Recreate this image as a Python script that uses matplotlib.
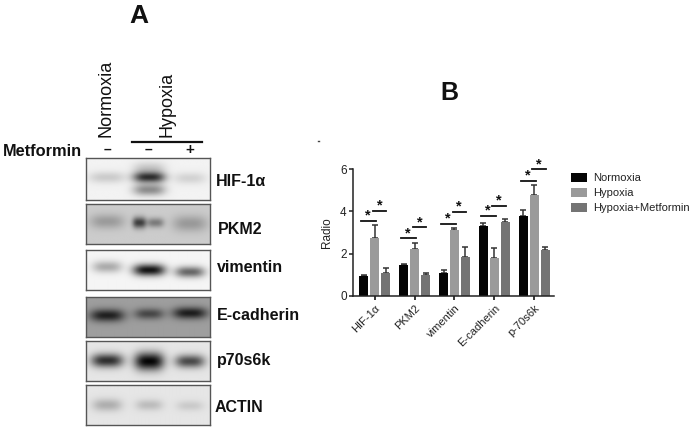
import numpy as np
import matplotlib
matplotlib.use("Agg")
import matplotlib.pyplot as plt

plt.rcParams['font.family'] = ['Liberation Sans', 'DejaVu Sans']

W, H = 691, 429
categories = ["HIF-1α", "PKM2", "vimentin", "E-cadherin", "p-70s6k"]
series_names = ["Normoxia", "Hypoxia", "Hypoxia+Metformin"]
normoxia = [0.95, 1.47, 1.08, 3.32, 3.78]
hypoxia = [2.75, 2.20, 3.12, 1.80, 4.77]
metformin = [1.07, 1.00, 1.83, 3.52, 2.15]
normoxia_err = [0.03, 0.05, 0.15, 0.15, 0.30]
hypoxia_err = [0.62, 0.32, 0.10, 0.45, 0.50]
metformin_err = [0.23, 0.10, 0.50, 0.10, 0.15]
sig_low = [3.56, 2.72, 3.42, 3.78, 5.46]
sig_high = [4.02, 3.24, 3.97, 4.27, 6.00]
colors = ["#050505", "#9a9a9a", "#747474"]

blot_names = ["HIF-1α", "PKM2", "vimentin", "E-cadherin", "p70s6k", "ACTIN"]
blot_boxes = [(158, 200), (204, 244), (250, 290), (297, 337), (341, 381), (385, 425)]
blot_label_pos = [(216, 181), (218, 229), (217, 268), (217, 316), (217, 361), (215, 408)]
blot_bg = [0.95, 0.80, 0.96, 0.62, 0.90, 0.90]
# band: lane centre (fraction), row (fraction), darkness, half width, half height (fractions)
blot_bands = [
    [(0.17, 0.46, 0.16, 0.15, 0.14), (0.51, 0.46, 0.78, 0.13, 0.13), (0.51, 0.76, 0.42, 0.13, 0.14),
     (0.51, 0.25, 0.18, 0.13, 0.16), (0.84, 0.48, 0.13, 0.13, 0.14)],
    [(0.17, 0.45, 0.24, 0.14, 0.18), (0.43, 0.48, 0.70, 0.055, 0.14), (0.56, 0.48, 0.40, 0.07, 0.12),
     (0.84, 0.50, 0.25, 0.14, 0.20)],
    [(0.17, 0.42, 0.30, 0.12, 0.15), (0.51, 0.50, 0.92, 0.13, 0.15), (0.84, 0.55, 0.58, 0.12, 0.14)],
    [(0.17, 0.46, 0.80, 0.14, 0.16), (0.51, 0.42, 0.55, 0.12, 0.14), (0.84, 0.40, 0.82, 0.14, 0.15)],
    [(0.17, 0.50, 0.80, 0.13, 0.17), (0.51, 0.52, 0.98, 0.12, 0.22), (0.84, 0.52, 0.68, 0.12, 0.16)],
    [(0.17, 0.50, 0.24, 0.12, 0.16), (0.51, 0.50, 0.18, 0.11, 0.14), (0.84, 0.52, 0.12, 0.11, 0.13)],
]

fig = plt.figure(figsize=(W / 100, H / 100), dpi=100, facecolor="white")


def px_axes(x0, y0, x1, y1):
    return fig.add_axes([x0 / W, 1 - y1 / H, (x1 - x0) / W, (y1 - y0) / H])


def px_text(x, y, s, **kw):
    fig.text(x / W, 1 - y / H, s, **kw)


# Panel A
yy, xx = np.mgrid[0:1:80j, 0:1:200j]
for box, bg, bands, name, pos in zip(blot_boxes, blot_bg, blot_bands, blot_names, blot_label_pos):
    ax = px_axes(86, box[0], 210, box[1])
    img = np.zeros_like(xx)
    for cx, cy, d, sx, sy in bands:
        img += d * np.exp(-np.abs((xx - cx) / sx) ** 3) * np.exp(-((yy - cy) / sy) ** 2)
    img = np.clip(bg * (1 - img), 0, 1)
    ax.imshow(img, cmap="gray", vmin=0, vmax=1, extent=(0, 1, 1, 0), aspect="auto", interpolation="bilinear")
    ax.set_xticks([])
    ax.set_yticks([])
    for s in ax.spines.values():
        s.set_color("#555555")
        s.set_linewidth(1.0)
    px_text(pos[0], pos[1], name, fontsize=11.5, fontweight="bold", ha="left", va="center", color="#111111")

px_text(139, 16, "A", fontsize=19, fontweight="bold", ha="center", va="center", color="#111111")
px_text(449, 93, "B", fontsize=18, fontweight="bold", ha="center", va="center", color="#111111")
px_text(106, 98.5, "Normoxia", fontsize=13, rotation=90, ha="center", va="center", color="#111111")
px_text(167, 104.5, "Hypoxia", fontsize=13, rotation=90, ha="center", va="center", color="#111111")
px_text(3, 151, "Metformin", fontsize=11.8, fontweight="bold", ha="left", va="center", color="#111111")
px_text(107, 150, "–", fontsize=10, fontweight="bold", ha="center", va="center", color="#111111")
px_text(148, 150, "–", fontsize=10, fontweight="bold", ha="center", va="center", color="#111111")
px_text(190, 150, "+", fontsize=11, fontweight="bold", ha="center", va="center", color="#111111")
fig.add_artist(plt.Line2D([132 / W, 202 / W], [1 - 141.5 / H, 1 - 141.5 / H], color="#111111", lw=1.6))
fig.add_artist(plt.Line2D([318 / W, 319 / W], [1 - 141 / H, 1 - 141 / H], color="#444444", lw=1))

# Panel B
ax = px_axes(353, 169.3, 554, 295.7)
x = np.arange(len(categories))
bar_w = 0.235
step = 0.275
for i, (vals, errs, c) in enumerate(zip((normoxia, hypoxia, metformin),
                                        (normoxia_err, hypoxia_err, metformin_err), colors)):
    pos = x + (i - 1) * step
    ax.bar(pos, vals, width=bar_w, color=c, label=series_names[i], zorder=2)
    ax.errorbar(pos, vals, yerr=[np.zeros(len(errs)), errs], fmt="none", ecolor="#333333",
                elinewidth=1.1, capsize=2, capthick=1.1, zorder=1)
for xi, lo, hi in zip(x, sig_low, sig_high):
    ax.plot([xi - 0.34, xi + 0.03], [lo, lo], color="#111111", lw=1.3, clip_on=False)
    ax.plot([xi - 0.05, xi + 0.29], [hi, hi], color="#111111", lw=1.3, clip_on=False)
    ax.text(xi - 0.16, lo - 0.08, "*", fontsize=10.5, fontweight="bold", ha="center", va="bottom", color="#111111")
    ax.text(xi + 0.12, hi - 0.08, "*", fontsize=10.5, fontweight="bold", ha="center", va="bottom", color="#111111")
ax.set_xlim(-0.54, 4.49)
ax.set_ylim(0, 6)
ax.set_yticks([0, 2, 4, 6])
ax.set_xticks(x)
ax.set_xticklabels(categories, rotation=45, ha="right", rotation_mode="anchor", fontsize=8, color="#222222")
ax.tick_params(axis="y", labelsize=8.5, length=3, width=1.1, pad=1.5, colors="#222222")
ax.tick_params(axis="x", length=3, width=1.1, pad=2)
ax.set_ylabel("Radio", fontsize=8.5, color="#222222", labelpad=5)
for s in ("top", "right"):
    ax.spines[s].set_visible(False)
for s in ("left", "bottom"):
    ax.spines[s].set_linewidth(1.1)
    ax.spines[s].set_color("#222222")
ax.patch.set_alpha(0)
handles, labels = ax.get_legend_handles_labels()
fig.legend(handles, labels, loc="upper left", bbox_to_anchor=(571 / W, 1 - 172.5 / H), frameon=False,
           fontsize=8, labelspacing=0.4, handlelength=1.45, handleheight=0.95, handletextpad=0.55,
           borderpad=0, borderaxespad=0, labelcolor="#222222")

fig.savefig("out.png", dpi=100)
